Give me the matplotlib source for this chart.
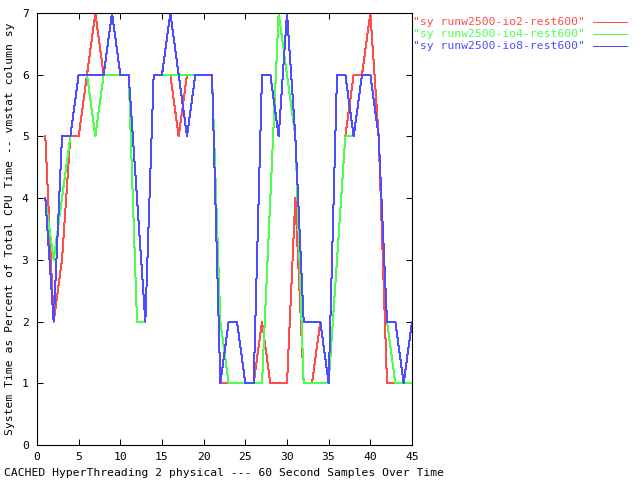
import matplotlib
matplotlib.use("Agg")
import matplotlib.pyplot as plt
from matplotlib.lines import Line2D
import numpy as np

# 60 second samples, vmstat "sy" column
samples = np.arange(1, 46)
sy_io2 = [5, 2, 3, 5, 5, 6, 7, 6, 6, 6, 6, 4, 2, 6, 6, 6, 5, 6, 6, 6, 6, 1, 1, 1, 1, 1, 2, 1, 1, 1,
          4, 1, 1, 2, 1, 3, 5, 6, 6, 7, 5, 1, 1, 1, 1]
sy_io4 = [4, 3, 4, 5, 6, 6, 5, 6, 6, 6, 6, 2, 2, 6, 6, 6, 6, 6, 6, 6, 6, 2, 1, 1, 1, 1, 1, 4, 7, 6,
          5, 1, 1, 1, 1, 3, 5, 5, 6, 6, 5, 2, 1, 1, 1]
sy_io8 = [4, 2, 5, 5, 6, 6, 6, 6, 7, 6, 6, 4, 2, 6, 6, 7, 6, 5, 6, 6, 6, 1, 2, 2, 1, 1, 6, 6, 5, 7,
          5, 2, 2, 2, 1, 6, 6, 5, 6, 6, 5, 2, 2, 1, 2]

labels = ['"sy runw2500-io2-rest600"', '"sy runw2500-io4-rest600"', '"sy runw2500-io8-rest600"']
colors = ["#ff4d4d", "#4dff4d", "#4d4dff"]

plt.rcParams["font.family"] = "DejaVu Sans Mono"
plt.rcParams["font.size"] = 8.2

fig = plt.figure(figsize=(6.4, 4.8), dpi=100)
W, H = 640, 480
ax = fig.add_axes([37 / W, 1 - 445 / H, 375 / W, 432 / H])

for ys, c in zip([sy_io2, sy_io4, sy_io8], colors):
    ax.plot(samples, ys, color=c, lw=0.72, antialiased=False)

ax.set_xlim(0, 45)
ax.set_ylim(0, 7)
ax.set_xticks(np.arange(0, 46, 5))
ax.set_yticks(np.arange(0, 8, 1))
ax.tick_params(direction="in", length=4, width=0.72, top=True, right=True, colors="black")
ax.tick_params(axis="y", pad=6)
ax.tick_params(axis="x", pad=5)
for s in ax.spines.values():
    s.set_linewidth(0.8)

fig.text(10 / W, 1 - 229 / H, "System Time as Percent of Total CPU Time -- vmstat column sy",
         rotation=90, ha="center", va="center")
fig.text(224 / W, 1 - 473 / H, "CACHED HyperThreading 2 physical --- 60 Second Samples Over Time",
         ha="center", va="center")

# key, gnuplot style: text then line sample
for i, (lab, c) in enumerate(zip(labels, colors)):
    y = 1 - (22 + 12 * i) / H
    fig.text(585 / W, y, lab, ha="right", va="center", color=c)
    fig.add_artist(Line2D([593 / W, 627 / W], [y, y], color=c, lw=0.72,
                          transform=fig.transFigure, antialiased=False))

fig.savefig("out.png", dpi=100, facecolor="white")
